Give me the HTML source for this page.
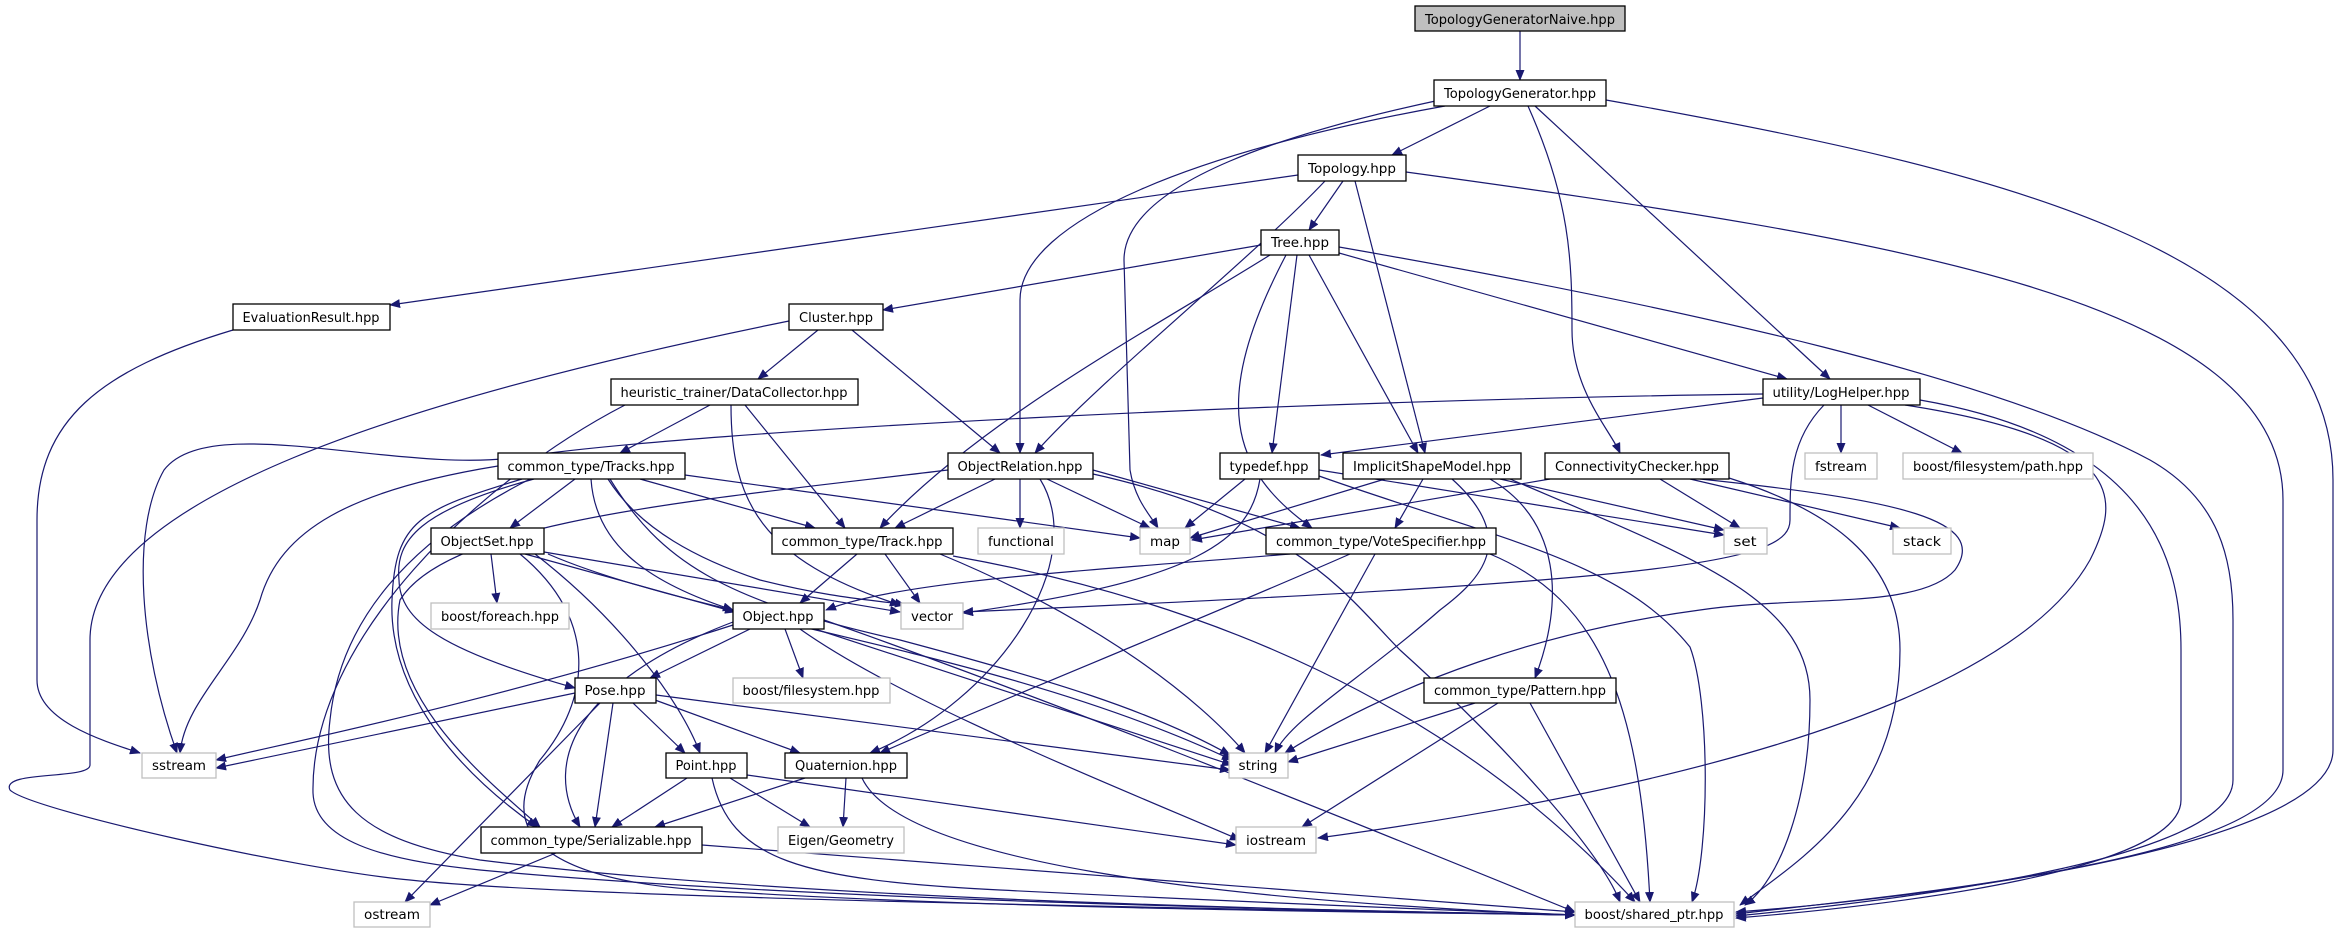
<!DOCTYPE html>
<html><head><meta charset="utf-8"><style>html,body{margin:0;padding:0;background:#fff}svg{display:block}</style></head>
<body>
<svg width="2339" height="933" viewBox="0 0 2339 933" xmlns="http://www.w3.org/2000/svg" font-family="'DejaVu Sans','Liberation Sans',sans-serif" font-size="13">
<defs><marker id="a" markerWidth="11" markerHeight="9" refX="10" refY="4.5" orient="auto" markerUnits="userSpaceOnUse"><path d="M0,0 L11,4.5 L0,9z" fill="#191970"/></marker></defs>
<g fill="none" stroke="#191970" stroke-width="1.2" marker-end="url(#a)">
<path d="M1520,31 L1520,80"/>
<path d="M1490,106 L1392,155"/>
<path d="M1445,106 C1200,150 1020,220 1020,300 L1020,453"/>
<path d="M1440,100 C1300,130 1124,180 1124,260 L1130,470 C1135,500 1150,515 1158,528"/>
<path d="M1535,106 L1830,379"/>
<path d="M1528,106 C1570,200 1572,260 1572,330 C1572,390 1610,430 1620,453"/>
<path d="M1606,100 C2000,170 2333,250 2333,480 L2333,750 C2333,850 1900,900 1736,912"/>
<path d="M1298,175 L390,305"/>
<path d="M1343,181 L1309,230"/>
<path d="M1325,181 C1250,260 1100,380 1035,453"/>
<path d="M1355,181 L1425,453"/>
<path d="M1406,172 C1900,240 2283,300 2283,500 L2283,770 C2283,860 1900,895 1736,914"/>
<path d="M1261,245 L883,310"/>
<path d="M1270,255 C1150,330 980,420 880,528"/>
<path d="M1297,255 L1272,453"/>
<path d="M1309,255 L1418,453"/>
<path d="M1339,253 L1787,379"/>
<path d="M1286,255 C1210,400 1230,470 1312,528"/>
<path d="M1339,247 C1700,310 2000,380 2150,460 C2220,500 2233,560 2233,620 L2233,780 C2233,860 1900,900 1736,916"/>
<path d="M233,330 C100,370 37,420 37,520 L37,680 C37,720 100,740 140,753"/>
<path d="M818,330 L758,379"/>
<path d="M852,330 L1000,453"/>
<path d="M789,321 C400,400 90,500 90,640 L90,765 C90,780 0,770 10,790 C30,810 300,870 410,880 C600,900 1300,910 1575,915"/>
<path d="M710,405 L620,453"/>
<path d="M745,405 L845,528"/>
<path d="M731,405 C731,500 760,560 900,605"/>
<path d="M625,405 C480,480 310,640 313,793 C315,840 380,860 480,870 C800,900 1300,910 1575,915"/>
<path d="M1763,398 L1321,455"/>
<path d="M1841,405 L1841,453"/>
<path d="M1868,405 L1962,453"/>
<path d="M1763,394 C1300,400 700,430 520,457 C400,475 210,410 164,470 C130,530 140,650 177,753"/>
<path d="M1824,405 C1790,440 1790,480 1790,520 C1790,560 1700,580 963,612"/>
<path d="M1905,405 C2130,440 2120,500 2090,560 C2000,720 1600,800 1318,838"/>
<path d="M1920,400 C2150,440 2181,560 2181,650 L2181,800 C2181,870 1900,905 1736,918"/>
<path d="M575,479 L510,528"/>
<path d="M640,479 L815,528"/>
<path d="M685,475 L1140,538"/>
<path d="M608,479 C640,530 700,560 760,580 C840,600 880,600 905,605"/>
<path d="M591,479 C595,540 640,580 733,610"/>
<path d="M534,479 C420,510 395,540 399,580 C400,620 440,650 575,688"/>
<path d="M498,466 C350,490 280,530 260,600 C240,660 185,700 180,753"/>
<path d="M610,479 C660,560 720,600 900,640 C1050,680 1150,710 1230,755"/>
<path d="M530,479 C410,540 340,620 330,720 C320,800 360,840 480,860 C800,900 1300,910 1575,915"/>
<path d="M522,479 C420,510 395,520 392,600 C388,700 470,780 537,827"/>
<path d="M995,479 L895,528"/>
<path d="M1020,479 L1020,528"/>
<path d="M1047,479 L1150,528"/>
<path d="M1040,479 C1090,560 1000,700 870,753"/>
<path d="M1093,470 L1300,528"/>
<path d="M948,470 C700,500 450,520 400,600 C380,700 500,790 540,827"/>
<path d="M1093,474 C1300,520 1350,600 1400,650 C1500,740 1600,850 1620,902"/>
<path d="M1245,479 L1185,528"/>
<path d="M1260,479 C1250,540 1200,580 963,613"/>
<path d="M1319,470 L1724,535"/>
<path d="M1319,476 C1500,540 1620,560 1690,647 C1710,700 1710,850 1692,902"/>
<path d="M1423,479 L1395,528"/>
<path d="M1385,479 L1190,538"/>
<path d="M1500,479 L1724,530"/>
<path d="M1490,479 C1560,520 1565,600 1535,678"/>
<path d="M1510,479 C1700,560 1810,600 1810,700 C1810,800 1780,880 1745,905"/>
<path d="M1452,479 C1520,540 1480,580 1440,610 C1360,680 1290,720 1275,753"/>
<path d="M1550,479 L1192,540"/>
<path d="M1660,479 L1740,528"/>
<path d="M1690,479 L1900,528"/>
<path d="M1700,479 C1900,500 1990,520 1955,570 C1920,610 1800,595 1700,610 C1550,630 1400,680 1285,753"/>
<path d="M1729,478 C1830,510 1900,560 1900,650 C1900,800 1800,860 1740,905"/>
<path d="M1290,554 C1100,570 900,580 826,610"/>
<path d="M1350,554 C1200,620 1000,700 880,753"/>
<path d="M1375,554 L1265,753"/>
<path d="M1490,554 C1600,600 1640,700 1650,902"/>
<path d="M857,554 L800,603"/>
<path d="M885,554 L920,603"/>
<path d="M940,554 C1100,620 1200,700 1245,753"/>
<path d="M953,556 C1200,600 1450,700 1635,902"/>
<path d="M491,554 L497,603"/>
<path d="M525,554 L735,612"/>
<path d="M544,552 L900,612"/>
<path d="M535,554 C620,620 680,700 700,753"/>
<path d="M548,554 C700,620 1000,650 1232,760"/>
<path d="M520,554 C600,620 590,700 540,760 C490,840 560,880 700,890 C1000,910 1400,912 1575,915"/>
<path d="M750,629 L650,678"/>
<path d="M785,629 L803,678"/>
<path d="M733,625 C500,700 300,740 216,760"/>
<path d="M733,622 C580,680 540,760 580,827"/>
<path d="M815,629 L1232,765"/>
<path d="M800,629 C900,700 1100,780 1240,840"/>
<path d="M824,620 C1050,700 1300,800 1575,912"/>
<path d="M575,693 L216,768"/>
<path d="M633,703 L685,753"/>
<path d="M655,700 L800,753"/>
<path d="M613,703 L595,827"/>
<path d="M600,703 L405,902"/>
<path d="M656,695 L1230,770"/>
<path d="M687,778 L612,827"/>
<path d="M730,778 L810,827"/>
<path d="M747,775 L1236,845"/>
<path d="M712,778 C730,860 800,880 1000,890 C1300,905 1500,912 1575,915"/>
<path d="M805,778 L655,827"/>
<path d="M846,778 L843,827"/>
<path d="M862,778 C900,860 1200,900 1575,915"/>
<path d="M556,853 L430,905"/>
<path d="M702,845 L1575,912"/>
<path d="M1475,703 L1288,762"/>
<path d="M1498,703 L1302,827"/>
<path d="M1530,703 L1640,902"/>
</g>
<g stroke-width="1.3">
<rect x="1415" y="6" width="210" height="25" fill="#bfbfbf" stroke="#000"/>
<rect x="1434" y="80" width="172" height="26" fill="#fff" stroke="#000"/>
<rect x="1298" y="155" width="108" height="26" fill="#fff" stroke="#000"/>
<rect x="1261" y="230" width="78" height="25" fill="#fff" stroke="#000"/>
<rect x="233" y="304" width="157" height="26" fill="#fff" stroke="#000"/>
<rect x="789" y="304" width="94" height="26" fill="#fff" stroke="#000"/>
<rect x="611" y="379" width="247" height="26" fill="#fff" stroke="#000"/>
<rect x="1763" y="379" width="157" height="26" fill="#fff" stroke="#000"/>
<rect x="498" y="453" width="187" height="26" fill="#fff" stroke="#000"/>
<rect x="948" y="453" width="145" height="26" fill="#fff" stroke="#000"/>
<rect x="1220" y="453" width="99" height="26" fill="#fff" stroke="#000"/>
<rect x="1343" y="453" width="178" height="26" fill="#fff" stroke="#000"/>
<rect x="1545" y="453" width="184" height="26" fill="#fff" stroke="#000"/>
<rect x="1805" y="453" width="72" height="26" fill="#fff" stroke="#bfbfbf"/>
<rect x="1903" y="453" width="190" height="26" fill="#fff" stroke="#bfbfbf"/>
<rect x="431" y="528" width="113" height="26" fill="#fff" stroke="#000"/>
<rect x="772" y="528" width="181" height="26" fill="#fff" stroke="#000"/>
<rect x="978" y="528" width="86" height="26" fill="#fff" stroke="#bfbfbf"/>
<rect x="1140" y="528" width="50" height="26" fill="#fff" stroke="#bfbfbf"/>
<rect x="1266" y="528" width="230" height="26" fill="#fff" stroke="#000"/>
<rect x="1724" y="528" width="43" height="26" fill="#fff" stroke="#bfbfbf"/>
<rect x="1893" y="528" width="58" height="26" fill="#fff" stroke="#bfbfbf"/>
<rect x="431" y="603" width="138" height="26" fill="#fff" stroke="#bfbfbf"/>
<rect x="733" y="603" width="91" height="26" fill="#fff" stroke="#000"/>
<rect x="901" y="603" width="62" height="26" fill="#fff" stroke="#bfbfbf"/>
<rect x="575" y="678" width="81" height="25" fill="#fff" stroke="#000"/>
<rect x="733" y="678" width="157" height="25" fill="#fff" stroke="#bfbfbf"/>
<rect x="1424" y="678" width="192" height="25" fill="#fff" stroke="#000"/>
<rect x="142" y="753" width="74" height="25" fill="#fff" stroke="#bfbfbf"/>
<rect x="666" y="753" width="81" height="25" fill="#fff" stroke="#000"/>
<rect x="785" y="753" width="122" height="25" fill="#fff" stroke="#000"/>
<rect x="1229" y="753" width="59" height="25" fill="#fff" stroke="#bfbfbf"/>
<rect x="481" y="827" width="221" height="26" fill="#fff" stroke="#000"/>
<rect x="778" y="827" width="126" height="26" fill="#fff" stroke="#bfbfbf"/>
<rect x="1236" y="827" width="80" height="26" fill="#fff" stroke="#bfbfbf"/>
<rect x="354" y="902" width="76" height="25" fill="#fff" stroke="#bfbfbf"/>
<rect x="1575" y="902" width="159" height="25" fill="#fff" stroke="#bfbfbf"/>
</g>
<g fill="#000" text-anchor="middle">
<text x="1520" y="24" textLength="190" lengthAdjust="spacingAndGlyphs">TopologyGeneratorNaive.hpp</text>
<text x="1520" y="98" textLength="152" lengthAdjust="spacingAndGlyphs">TopologyGenerator.hpp</text>
<text x="1352" y="173" textLength="88" lengthAdjust="spacingAndGlyphs">Topology.hpp</text>
<text x="1300" y="247" textLength="58" lengthAdjust="spacingAndGlyphs">Tree.hpp</text>
<text x="311" y="322" textLength="137" lengthAdjust="spacingAndGlyphs">EvaluationResult.hpp</text>
<text x="836" y="322" textLength="74" lengthAdjust="spacingAndGlyphs">Cluster.hpp</text>
<text x="734" y="397" textLength="227" lengthAdjust="spacingAndGlyphs">heuristic_trainer/DataCollector.hpp</text>
<text x="1841" y="397" textLength="137" lengthAdjust="spacingAndGlyphs">utility/LogHelper.hpp</text>
<text x="591" y="471" textLength="167" lengthAdjust="spacingAndGlyphs">common_type/Tracks.hpp</text>
<text x="1020" y="471" textLength="125" lengthAdjust="spacingAndGlyphs">ObjectRelation.hpp</text>
<text x="1269" y="471" textLength="79" lengthAdjust="spacingAndGlyphs">typedef.hpp</text>
<text x="1432" y="471" textLength="158" lengthAdjust="spacingAndGlyphs">ImplicitShapeModel.hpp</text>
<text x="1637" y="471" textLength="164" lengthAdjust="spacingAndGlyphs">ConnectivityChecker.hpp</text>
<text x="1841" y="471" textLength="52" lengthAdjust="spacingAndGlyphs">fstream</text>
<text x="1998" y="471" textLength="170" lengthAdjust="spacingAndGlyphs">boost/filesystem/path.hpp</text>
<text x="487" y="546" textLength="93" lengthAdjust="spacingAndGlyphs">ObjectSet.hpp</text>
<text x="862" y="546" textLength="161" lengthAdjust="spacingAndGlyphs">common_type/Track.hpp</text>
<text x="1021" y="546" textLength="66" lengthAdjust="spacingAndGlyphs">functional</text>
<text x="1165" y="546" textLength="30" lengthAdjust="spacingAndGlyphs">map</text>
<text x="1381" y="546" textLength="210" lengthAdjust="spacingAndGlyphs">common_type/VoteSpecifier.hpp</text>
<text x="1745" y="546" textLength="23" lengthAdjust="spacingAndGlyphs">set</text>
<text x="1922" y="546" textLength="38" lengthAdjust="spacingAndGlyphs">stack</text>
<text x="500" y="621" textLength="118" lengthAdjust="spacingAndGlyphs">boost/foreach.hpp</text>
<text x="778" y="621" textLength="71" lengthAdjust="spacingAndGlyphs">Object.hpp</text>
<text x="932" y="621" textLength="42" lengthAdjust="spacingAndGlyphs">vector</text>
<text x="615" y="695" textLength="61" lengthAdjust="spacingAndGlyphs">Pose.hpp</text>
<text x="811" y="695" textLength="137" lengthAdjust="spacingAndGlyphs">boost/filesystem.hpp</text>
<text x="1520" y="695" textLength="172" lengthAdjust="spacingAndGlyphs">common_type/Pattern.hpp</text>
<text x="179" y="770" textLength="54" lengthAdjust="spacingAndGlyphs">sstream</text>
<text x="706" y="770" textLength="61" lengthAdjust="spacingAndGlyphs">Point.hpp</text>
<text x="846" y="770" textLength="102" lengthAdjust="spacingAndGlyphs">Quaternion.hpp</text>
<text x="1258" y="770" textLength="39" lengthAdjust="spacingAndGlyphs">string</text>
<text x="591" y="845" textLength="201" lengthAdjust="spacingAndGlyphs">common_type/Serializable.hpp</text>
<text x="841" y="845" textLength="106" lengthAdjust="spacingAndGlyphs">Eigen/Geometry</text>
<text x="1276" y="845" textLength="60" lengthAdjust="spacingAndGlyphs">iostream</text>
<text x="392" y="919" textLength="56" lengthAdjust="spacingAndGlyphs">ostream</text>
<text x="1654" y="919" textLength="139" lengthAdjust="spacingAndGlyphs">boost/shared_ptr.hpp</text>
</g>
</svg>
</body></html>
